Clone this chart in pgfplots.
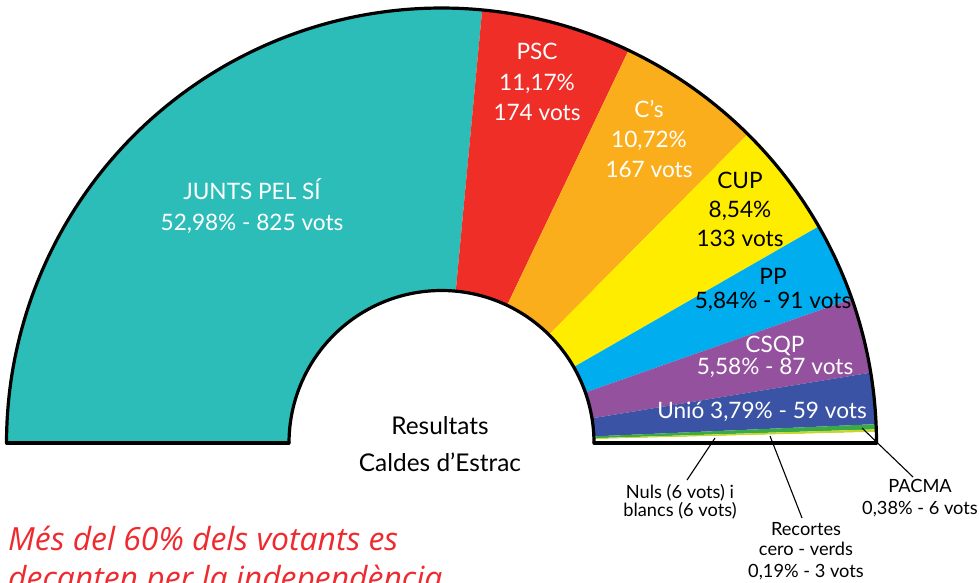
\documentclass[border=0pt]{standalone}
\usepackage{fontspec}
\setmainfont{Lato}
\newfontfamily\itfont{Open Sans}
\usepackage{pgfplots}
\pgfplotsset{compat=1.18}
\definecolor{cjxs}{HTML}{2DBDB9}
\definecolor{cpsc}{HTML}{EE2E27}
\definecolor{ccs}{HTML}{FBAE1B}
\definecolor{ccup}{HTML}{FFED00}
\definecolor{cpp}{HTML}{00AEEF}
\definecolor{ccsqp}{HTML}{94519E}
\definecolor{cunio}{HTML}{3A53A4}
\definecolor{cpacma}{HTML}{3AAA48}
\definecolor{crec}{HTML}{C8D62B}
\definecolor{cred}{HTML}{EE2A2F}
\def\cx{441.5}
\def\cy{140}
\def\Ro{435}
\def\Ri{152.5}
% slice: colour, cumulative % at start, cumulative % at end
\newcommand\slice[3]{%
  \addplot[fill=#1, draw=none, domain={180-1.8*(#3)}:{180-1.8*(#2)}, samples=90]
    ({\cx+\Ro*cos(x)},{\cy+\Ro*sin(x)}) -- (axis cs:\cx,\cy) -- cycle;}
\newcommand\lab[4]{\node[anchor=base, text=#4, inner sep=0pt] at (axis cs:#1,#2) {#3};}
\begin{document}
\begin{tikzpicture}
\path[use as bounding box, clip] (0,0) rectangle (979bp,583bp);
\begin{axis}[at={(0,0)}, anchor=origin, scale only axis, width=979bp, height=583bp,
  xmin=0, xmax=979, ymin=0, ymax=583, hide axis, clip=false]
% vote shares (%): JxSi 52.98, PSC 11.17, Cs 10.72, CUP 8.54, PP 5.84, CSQP 5.58,
% Unio 3.79, PACMA 0.38, Recortes 0.19, Nuls+blancs 0.77
\slice{cjxs}{0}{52.98}
\slice{cpsc}{52.98}{64.15}
\slice{ccs}{64.15}{74.87}
\slice{ccup}{74.87}{83.41}
\slice{cpp}{83.41}{89.25}
\slice{ccsqp}{89.25}{94.83}
\slice{cunio}{94.83}{98.62}
\slice{cpacma}{98.62}{99.00}
\slice{crec}{99.00}{99.19}
\slice{white}{99.19}{100}
\addplot[fill=white, draw=none, domain=0:180, samples=120]
  ({\cx+\Ri*cos(x)},{\cy+\Ri*sin(x)}) -- cycle;
% outline
\addplot[black, line width=3.2bp, domain=0:180, samples=200] ({\cx+\Ro*cos(x)},{\cy+\Ro*sin(x)});
\addplot[black, line width=3.2bp, domain=0:180, samples=120] ({\cx+\Ri*cos(x)},{\cy+\Ri*sin(x)});
\addplot[black, line width=3.2bp, line cap=round] coordinates {(6.5,140) (289,140)};
\addplot[black, line width=3.2bp, line cap=round] coordinates {(594,140) (876.5,140)};
% leader lines
\addplot[black, line width=1.1bp] coordinates {(715,145) (687,103)};
\addplot[black, line width=1.1bp] coordinates {(770,147) (802,65)};
\addplot[black, line width=1.1bp] coordinates {(862,155) (913,106)};
% labels
\def\big{\fontsize{22.7}{26}\selectfont}
\def\sml{\fontsize{18.3}{21}\selectfont}
\lab{252}{383}{\big JUNTS PEL SÍ}{white}
\lab{252}{352}{\big 52,98\% - 825 vots}{white}
\lab{537}{523}{\big PSC}{white}
\lab{537}{492}{\big 11,17\%}{white}
\lab{537}{462}{\big 174 vots}{white}
\lab{649}{465}{\big C’s}{white}
\lab{649}{435}{\big 10,72\%}{white}
\lab{649}{405}{\big 167 vots}{white}
\lab{740}{394}{\big CUP}{black}
\lab{740}{365}{\big 8,54\%}{black}
\lab{740}{336}{\big 133 vots}{black}
\lab{773}{298}{\big PP}{black}
\lab{773}{274}{\big 5,84\% - 91 vots}{black}
\lab{775}{230}{\big CSQP}{white}
\lab{775}{208}{\big 5,58\% - 87 vots}{white}
\lab{762}{164}{\big Unió 3,79\% - 59 vots}{white}
\lab{440}{148}{\fontsize{24.5}{28}\selectfont Resultats}{black}
\lab{440}{111}{\fontsize{24.5}{28}\selectfont Caldes d’Estrac}{black}
\lab{680}{84}{\sml Nuls (6 vots) i}{black}
\lab{680}{66}{\sml blancs (6 vots)}{black}
\lab{806}{47}{\sml Recortes}{black}
\lab{806}{28}{\sml cero - verds}{black}
\lab{806}{6}{\sml 0,19\% - 3 vots}{black}
\lab{920}{90}{\sml PACMA}{black}
\lab{920}{68}{\sml 0,38\% - 6 vots}{black}
\node[anchor=base west, text=cred, inner sep=0pt] at (axis cs:8,32) {\itfont\itshape\fontsize{32}{38}\selectfont Més del 60\% dels votants es};
\node[anchor=base west, text=cred, inner sep=0pt] at (axis cs:8,-6) {\itfont\itshape\fontsize{32}{38}\selectfont decanten per la independència};
\end{axis}
\end{tikzpicture}
\end{document}
